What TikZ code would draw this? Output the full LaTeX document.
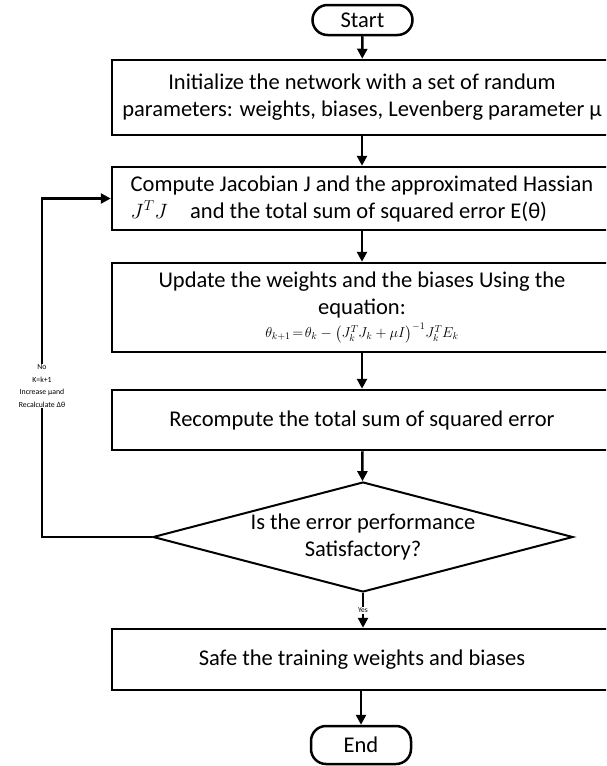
\documentclass[tikz,border=0pt]{standalone}
\usepackage{amsmath}
\usepackage{fontspec}
\setmainfont{Carlito}
\usetikzlibrary{arrows, arrows.meta}
\usetikzlibrary{shapes.geometric}

\tikzset{
  box/.style={rectangle, draw, line width=2.5pt, minimum width=500pt, inner sep=2pt, align=center, font=\fontsize{22.5}{27}\selectfont},
  pill/.style={rectangle, draw, rounded corners=15pt, line width=2.5pt, minimum width=100pt, font=\fontsize{22.5}{27}\selectfont},
  decision/.style={diamond, draw, line width=2pt, aspect=3.8, minimum width=420pt, minimum height=110pt, inner sep=0pt, align=center, font=\fontsize{22.5}{27}\selectfont},
  flow/.style={line width=2.5pt, -{Triangle[length=10pt, width=10pt]}},
  tag/.style={fill=white, inner sep=1pt, align=center}
}

\begin{document}
\begin{tikzpicture}[x=1pt, y=1pt]
      \useasboundingbox (0,0) rectangle (606,-766);
      \clip (0,0) rectangle (606,-766);

      \node[pill, minimum height=30pt] (start) at (362.5,-20) {Start};
      \node[box, minimum height=75pt] (init) at (362,-97.5) {Initialize the network with a set of randum\\parameters: weights, biases, Levenberg parameter μ};
      \node[box, minimum height=63pt, align=left] (jacob) at (362,-198.5) {Compute Jacobian J and the approximated Hassian\\ $J^TJ$\quad and the total sum of squared error E(θ)};
      \node[box, minimum height=89pt] (update) at (362,-307.5) {Update the weights and the biases Using the\\equation:\\[-4pt]{\fontsize{14}{16}\selectfont$\theta_{k+1}\!=\!\theta_k-\bigl(J_k^TJ_k+\mu I\bigr)^{-1}J_k^TE_k$}};
      \node[box, minimum height=60pt] (recomp) at (362,-420) {Recompute the total sum of squared error};
      \node[decision] (check) at (363,-537) {Is the error performance\\Satisfactory?};
      \node[box, minimum height=61pt] (save) at (362,-659.5) {Safe the training weights and biases};
      \node[pill, minimum height=38pt] (stop) at (361,-745) {End};
      \coordinate (loop) at (42,0);

      \draw[flow] (start) -- (init);
      \draw[flow] (init) -- (jacob);
      \draw[flow] (jacob) -- (update);
      \draw[flow] (update) -- (recomp);
      \draw[flow] (recomp) -- (check);
      \draw[flow] (check.south) -- (check.south |- save.north) node[tag, midway, font=\fontsize{7.5}{8}\selectfont] (yes) {Yes};
      \draw[flow] (stop.north |- save.south) -- (stop.north);
      \draw[flow] (check.west) -- (check.west -| loop) |- (jacob.west);
      \node[tag, font=\fontsize{7.8}{12.5}\selectfont] (retry) at (42,-386) {No\\K=k+1\\Increase μand\\Recalculate Δθ};
    \end{tikzpicture}
\end{document}
